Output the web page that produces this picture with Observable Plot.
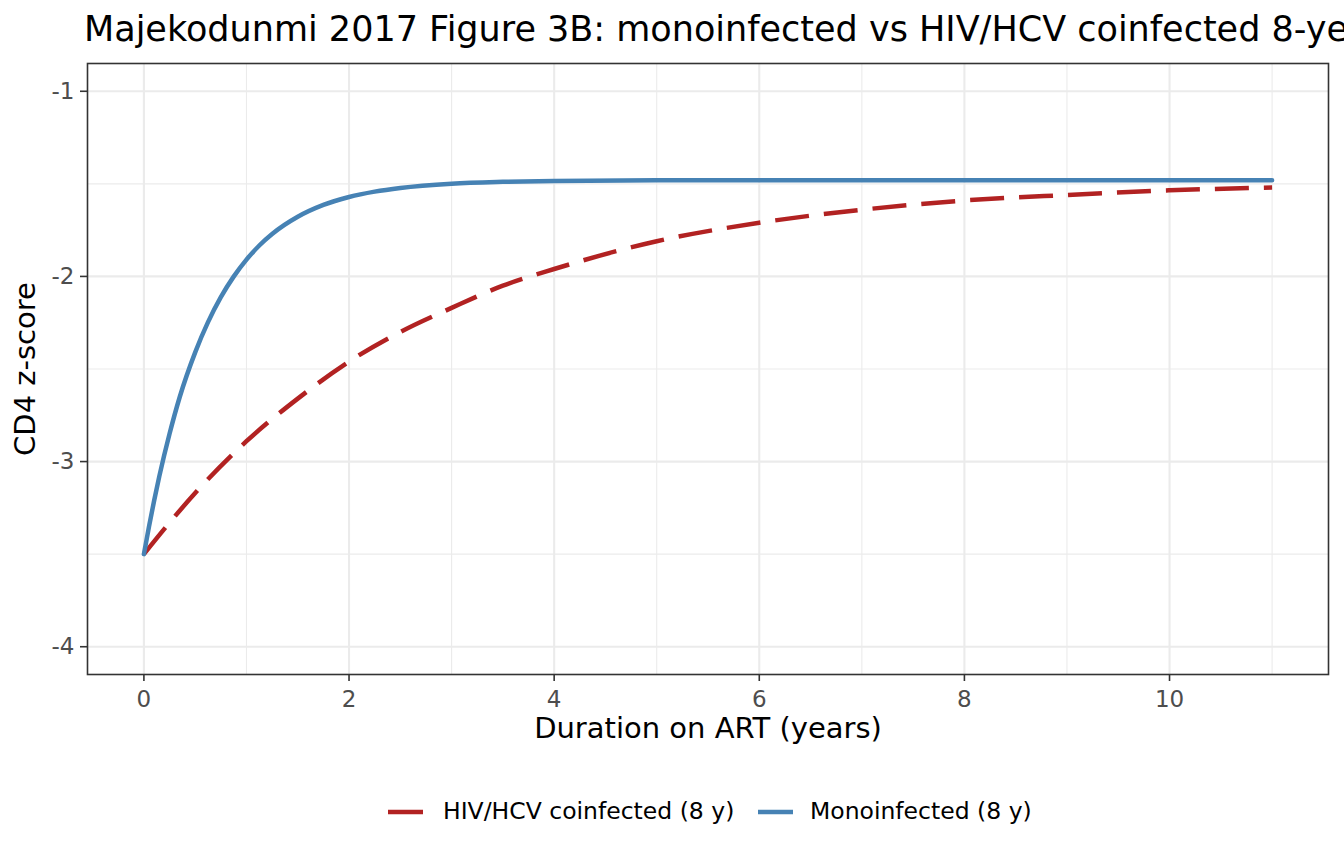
<!DOCTYPE html>
<html>
<head>
<meta charset="utf-8">
<script src="https://cdn.jsdelivr.net/npm/d3@7"></script>
<script src="https://cdn.jsdelivr.net/npm/@observablehq/plot@0.6"></script>
<style>
  html, body { margin: 0; padding: 0; background: #fff; overflow: hidden; }
  body { width: 1344px; height: 864px; font-family: "DejaVu Sans", sans-serif; position: relative; }
  #title { position: relative; height: 52px; }
  #title span { position: absolute; left: 84px; top: 12px; font-size: 35px; line-height: 1; white-space: nowrap; color: #000; }
  #legend { position: relative; height: 100px; }
  .key { position: absolute; top: 43px; }
  .lab { position: absolute; top: 35.5px; font-size: 23.5px; line-height: 1; white-space: nowrap; color: #000; }
</style>
</head>
<body>
<div id="title"><span>Majekodunmi 2017 Figure 3B: monoinfected vs HIV/HCV coinfected 8-year trajectories</span></div>
<div id="chart"></div>
<div id="legend">
  <svg class="key" style="left:388px" width="35" height="10"><line x1="0" x2="35" y1="5" y2="5" stroke="#b22222" stroke-width="4.5"/></svg>
  <span class="lab" style="left:443px">HIV/HCV coinfected (8 y)</span>
  <svg class="key" style="left:758px" width="35" height="10"><line x1="0" x2="35" y1="5" y2="5" stroke="#4682b4" stroke-width="4.5"/></svg>
  <span class="lab" style="left:810px">Monoinfected (8 y)</span>
</div>
<script>
// Series names
const seriesNames = ["HIV/HCV coinfected (8 y)", "Monoinfected (8 y)"];

// HIV/HCV coinfected: CD4 z-score by years on ART
const coinfYears = [0, 0.25, 0.5, 1, 1.5, 2, 2.5, 3, 3.5, 4, 5, 6, 7, 8, 9, 10, 11];
const coinfZ = [-3.50, -3.33, -3.17, -2.89, -2.66, -2.46, -2.30, -2.17, -2.05, -1.96, -1.81, -1.71, -1.64, -1.59, -1.56, -1.535, -1.52];

// Monoinfected: CD4 z-score by years on ART
const monoYears = [0, 0.05, 0.1, 0.15, 0.25, 0.35, 0.5, 0.625, 0.75, 0.875, 1, 1.125, 1.25, 1.5, 1.75, 2, 2.25, 2.5, 3, 3.5, 4, 5, 6, 8, 11];
const monoZ = [-3.50, -3.35, -3.21, -3.08, -2.85, -2.65, -2.41, -2.247, -2.112, -2.001, -1.909, -1.833, -1.771, -1.678, -1.614, -1.571, -1.542, -1.522, -1.499, -1.489, -1.484, -1.481, -1.48, -1.48, -1.48];

// Axis breaks
const xMajor = [0, 2, 4, 6, 8, 10];
const xMinor = [1, 3, 5, 7, 9, 11];
const yMajor = [-4, -3, -2, -1];
const yMinor = [-3.5, -2.5, -1.5];

const xTitle = "Duration on ART (years)";
const yTitle = "CD4 z-score";

const coinf = coinfYears.map((t, i) => ({t, z: coinfZ[i], group: seriesNames[0]}));
const mono = monoYears.map((t, i) => ({t, z: monoZ[i], group: seriesNames[1]}));

const grid = "#ebebeb";
const ink = "#333333";

const chart = Plot.plot({
  width: 1344,
  height: 712,
  marginTop: 11,
  marginBottom: 90,
  marginLeft: 87,
  marginRight: 16,
  x: {domain: [-0.55, 11.55]},
  y: {domain: [-4.15, -0.85]},
  style: {fontFamily: "DejaVu Sans", fontSize: "23px", background: "white", overflow: "visible"},
  marks: [
    Plot.ruleX(xMinor, {stroke: grid, strokeWidth: 1.1}),
    Plot.ruleY(yMinor, {stroke: grid, strokeWidth: 1.1}),
    Plot.ruleX(xMajor, {stroke: grid, strokeWidth: 2.1}),
    Plot.ruleY(yMajor, {stroke: grid, strokeWidth: 2.1}),
    Plot.line(coinf, {x: "t", y: "z", stroke: "#b22222", strokeWidth: 4.5, strokeDasharray: "34,15", strokeLinecap: "butt", curve: "monotone-x"}),
    Plot.line(mono, {x: "t", y: "z", stroke: "#4682b4", strokeWidth: 4.5, curve: "monotone-x"}),
    Plot.frame({stroke: ink, strokeWidth: 1.6}),
    Plot.axisX(xMajor, {tickSize: 7, tickPadding: 9, stroke: ink, strokeWidth: 1.6, fill: "#4d4d4d", fontSize: 23, label: null, tickFormat: d => String(d)}),
    Plot.axisY(yMajor, {tickSize: 7, tickPadding: 6, stroke: ink, strokeWidth: 1.6, fill: "#4d4d4d", fontSize: 23, label: null, tickFormat: d => String(d)}),
    Plot.text([xTitle], {text: d => d, frameAnchor: "bottom", dy: 63, lineAnchor: "bottom", textAnchor: "middle", fontSize: 29, fill: "black"}),
    Plot.text([yTitle], {text: d => d, frameAnchor: "left", dx: -53, rotate: -90, lineAnchor: "bottom", textAnchor: "middle", fontSize: 29, fill: "black"})
  ]
});
document.getElementById("chart").appendChild(chart);
</script>
</body>
</html>
